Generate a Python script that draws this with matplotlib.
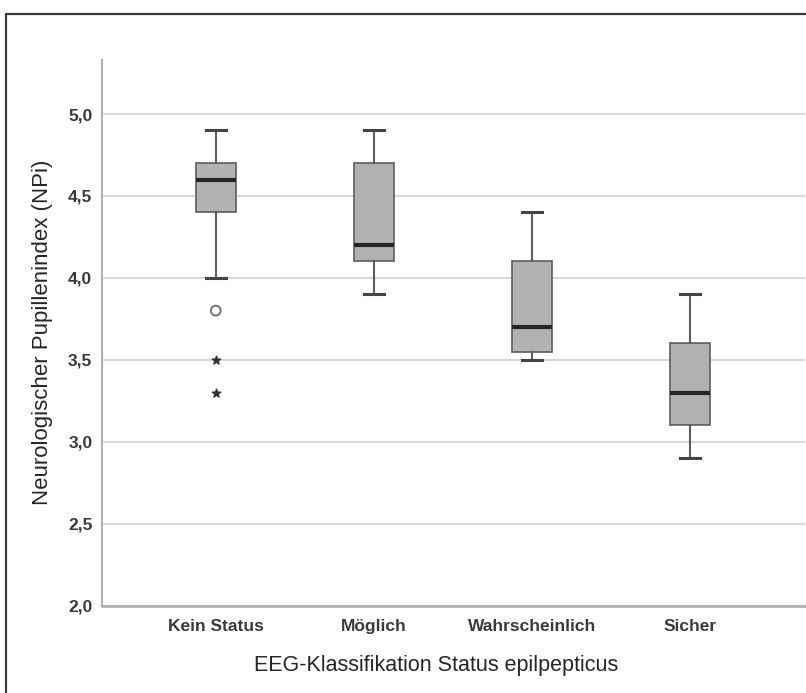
import numpy as np
import matplotlib.pyplot as plt
from matplotlib.patches import Rectangle
from matplotlib import font_manager

# data
categories = ['Kein Status', 'Möglich', 'Wahrscheinlich', 'Sicher']
whisker_low = [4.0, 3.9, 3.5, 2.9]
q1 = [4.4, 4.1, 3.55, 3.1]
median = [4.6, 4.2, 3.7, 3.3]
q3 = [4.7, 4.7, 4.1, 3.6]
whisker_high = [4.9, 4.9, 4.4, 3.9]
outliers_circle = [[3.8], [], [], []]
outliers_star = [[3.5, 3.3], [], [], []]

names = {f.name for f in font_manager.fontManager.ttflist}
tick_font = 'Liberation Sans Narrow' if 'Liberation Sans Narrow' in names else 'Liberation Sans'

fig = plt.figure(figsize=(8.06, 6.93), dpi=100)
ax = fig.add_axes([102/806, 1 - 605.5/693, 703/806, 545.5/693])

# frame around the figure
fig.patches.append(Rectangle((6/806, -0.05), 1.2, 1 - 14/693 + 0.05,
                             transform=fig.transFigure, fill=False,
                             edgecolor='#3a3a3a', linewidth=1.6))

stats = []
for i in range(len(categories)):
    stats.append({'whislo': whisker_low[i], 'q1': q1[i], 'med': median[i],
                  'q3': q3[i], 'whishi': whisker_high[i], 'fliers': []})

pos = np.arange(len(categories))
ax.bxp(stats, positions=pos, widths=0.255, patch_artist=True, showfliers=False,
       boxprops=dict(facecolor='#b2b2b2', edgecolor='#5e5e5e', linewidth=1.2),
       medianprops=dict(color='#262626', linewidth=3),
       whiskerprops=dict(color='#5e5e5e', linewidth=1.5),
       capprops=dict(color='#444444', linewidth=2.2),
       capwidths=0.127, zorder=3)

for i in range(len(categories)):
    if outliers_circle[i]:
        ax.scatter([pos[i]] * len(outliers_circle[i]), outliers_circle[i], s=50,
                   facecolors='none', edgecolors='#7a7a7a', linewidths=1.5, zorder=4)
    if outliers_star[i]:
        ax.scatter([pos[i]] * len(outliers_star[i]), outliers_star[i], s=40,
                   marker='*', color='#333333', zorder=4)

ax.set_ylim(2.0, 5.33)
ax.set_xlim(-0.72, 3.73)
ax.set_yticks([2.0, 2.5, 3.0, 3.5, 4.0, 4.5, 5.0])
ax.set_yticklabels(['2,0', '2,5', '3,0', '3,5', '4,0', '4,5', '5,0'])
ax.set_xticks(pos)
ax.set_xticklabels(categories)
ax.yaxis.grid(True, color='#d9d9d9', linewidth=1.5, zorder=0)
ax.set_axisbelow(True)

for lab in ax.get_xticklabels() + ax.get_yticklabels():
    lab.set_family(tick_font)
    lab.set_fontweight('bold')
    lab.set_fontsize(12.5)
    lab.set_color('#3a3a3a')
ax.tick_params(axis='y', length=0, pad=7)
ax.tick_params(axis='x', length=0, pad=10)

for s in ['top', 'right']:
    ax.spines[s].set_visible(False)
ax.spines['left'].set_color('#b0b0b0')
ax.spines['bottom'].set_color('#b0b0b0')
ax.spines['bottom'].set_linewidth(2)
ax.spines['left'].set_linewidth(1.5)

ax.set_xlabel('EEG-Klassifikation Status epilpepticus', fontsize=15.5,
              family='Liberation Sans', color='#262626')
ax.set_ylabel('Neurologischer Pupillenindex (NPi)', fontsize=16,
              family='Liberation Sans', color='#262626')
ax.xaxis.set_label_coords(0.475, -0.110)
ax.xaxis.label.set_va('center')
ax.yaxis.set_label_coords(-0.085, 0.50)
ax.yaxis.label.set_va('center')

plt.savefig('out.png', dpi=100)
